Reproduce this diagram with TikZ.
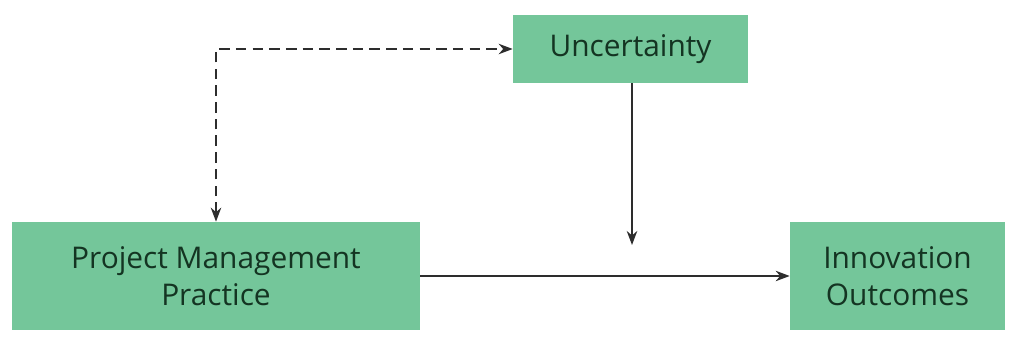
\documentclass[tikz,border=0pt]{standalone}
\usepackage{fontspec}
\setmainfont{Open Sans}
\definecolor{boxgreen}{RGB}{116,198,154}
\definecolor{txtgreen}{RGB}{20,52,34}
\definecolor{linegray}{RGB}{45,45,45}
\usetikzlibrary{arrows.meta,positioning}

\begin{document}
\begin{tikzpicture}[every node/.style={font=\fontsize{17}{21}\selectfont, text=txtgreen},
  bx/.style={fill=boxgreen, draw=none, align=center, inner sep=0pt},
  arr/.style={-{Stealth[length=8pt,width=6pt]}, line width=0.8pt, draw=linegray}]
\useasboundingbox (0,0) rectangle (20.36,7.04);
% Boxes
\node[bx, minimum width=8.16cm, minimum height=2.16cm] (pm) at (4.32,1.52) {Project Management\\Practice};
\node[bx, minimum width=4.3cm, minimum height=2.16cm] (io) at (17.95,1.52) {Innovation\\Outcomes};
\node[bx, minimum width=4.7cm, minimum height=1.36cm] (unc) at (12.61,6.06) {Uncertainty};
\coordinate (mod) at (12.64,2.14);
% Arrows
\draw[arr] (pm) -- (io);
\draw[arr] (unc.south -| mod) -- (mod);
\draw[arr, {Stealth[length=8pt,width=6pt]}-{Stealth[length=8pt,width=6pt]}, dash pattern=on 6pt off 3.5pt] (pm.north) |- (unc.west);
\end{tikzpicture}
\end{document}
